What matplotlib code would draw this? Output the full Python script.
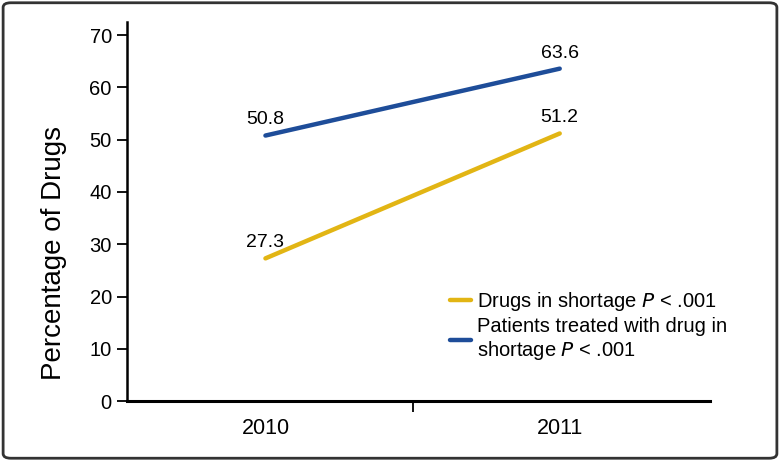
import matplotlib
matplotlib.use("Agg")
import matplotlib.pyplot as plt
from matplotlib.patches import FancyBboxPatch

years = ["2010", "2011"]
drugs_shortage = [27.3, 51.2]
patients_treated = [50.8, 63.6]
yticks = [0, 10, 20, 30, 40, 50, 60, 70]

yellow = "#E2B514"
blue = "#1E4D99"

plt.rcParams["font.family"] = ["Liberation Sans", "DejaVu Sans"]

fig = plt.figure(figsize=(7.8, 4.61), dpi=100)
ax = fig.add_axes([0.163, 0.130, 0.747, 0.822])

x = list(range(len(years)))
ax.plot(x, drugs_shortage, color=yellow, lw=3.2, solid_capstyle="round",
        label="Drugs in shortage $\\it{P}$ < .001")
ax.plot(x, patients_treated, color=blue, lw=3.2, solid_capstyle="round",
        label="Patients treated with drug in\nshortage $\\it{P}$ < .001")

for series in (drugs_shortage, patients_treated):
    for xi, v in zip(x, series):
        ax.annotate(f"{v:.1f}", (xi, v), xytext=(0, 8), textcoords="offset points",
                    ha="center", va="baseline", fontsize=14)

ax.set_xlim(-0.47, 1.51)
ax.set_ylim(0, 72.5)
ax.set_yticks(yticks)
ax.set_yticklabels([str(t) for t in yticks], fontsize=14.5)
ax.set_xticks([0.5])
ax.set_xticklabels([""])
ax.set_xticks(x, minor=True)
ax.set_xticklabels(years, minor=True, fontsize=15.5)
ax.tick_params(axis="x", which="minor", length=0, pad=12)
ax.tick_params(axis="x", which="major", length=8, width=1.3, direction="out")
ax.tick_params(axis="y", length=7, width=1.3, direction="out", pad=4)

for s in ["top", "right"]:
    ax.spines[s].set_visible(False)
ax.spines["left"].set_linewidth(1.8)
ax.spines["bottom"].set_linewidth(2.2)

ax.set_ylabel("Percentage of Drugs", fontsize=20)
ax.yaxis.set_label_coords(-0.103, 0.39)

leg = ax.legend(loc="upper left", bbox_to_anchor=(450 / 780, 1 - 290 / 461),
                bbox_transform=fig.transFigure, frameon=False,
                fontsize=14.5, handlelength=1.05, handletextpad=0.3,
                labelspacing=0.2, borderaxespad=0, borderpad=0)

border = FancyBboxPatch((0.004, 0.006), 0.992, 0.988,
                        boxstyle="round,pad=0,rounding_size=0.01",
                        transform=fig.transFigure, fill=False,
                        edgecolor="#333333", lw=2.0)
fig.patches.append(border)

fig.savefig("out.png", dpi=100)
